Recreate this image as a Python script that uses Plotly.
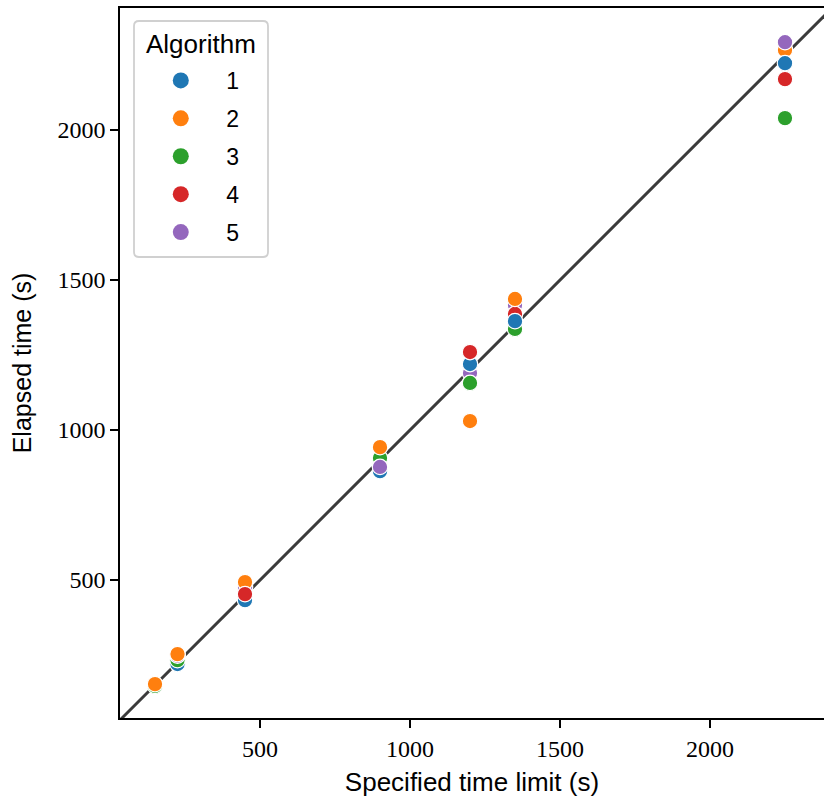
import plotly.graph_objects as go

time_limits = [150, 225, 450, 900, 1200, 1350, 2250]
algorithms = ["1", "2", "3", "4", "5"]
elapsed = {
    "1": [150, 220, 433, 863, 1220, 1363, 2223],
    "2": [153, 253, 493, 943, 1030, 1437, 2267],
    "3": [147, 233, 455, 907, 1157, 1337, 2040],
    "4": [150, 250, 453, 880, 1260, 1387, 2170],
    "5": [150, 248, 477, 877, 1190, 1417, 2293],
}
# drawing order (bottom -> top) of the algorithms within each time limit
stack_order = [
    ["1", "4", "5", "3", "2"],
    ["1", "3", "4", "5", "2"],
    ["3", "1", "5", "2", "4"],
    ["1", "4", "3", "2", "5"],
    ["5", "3", "1", "4", "2"],
    ["3", "5", "4", "1", "2"],
    ["2", "3", "4", "1", "5"],
]
colors = {"1": "#1f77b4", "2": "#ff7f0e", "3": "#2ca02c", "4": "#d62728", "5": "#9467bd"}
diag = [0, 2600]

xs, ys, cs, names = [], [], [], []
for i, t in enumerate(time_limits):
    for alg in stack_order[i]:
        xs.append(t)
        ys.append(elapsed[alg][i])
        cs.append(colors[alg])
        names.append(alg)

fig = go.Figure()
fig.add_trace(go.Scatter(x=diag, y=diag, mode="lines",
                         line=dict(color="#3b3b3b", width=3),
                         showlegend=False, hoverinfo="skip"))
fig.add_trace(go.Scatter(
    x=xs, y=ys, mode="markers", showlegend=False, text=names,
    marker=dict(size=15.5, color=cs, line=dict(color="white", width=1.2)),
))
for alg in algorithms:
    fig.add_trace(go.Scatter(
        x=[None], y=[None], mode="markers",
        name="\u00a0" * 4 + alg, legendgroup=alg,
        marker=dict(size=16, color=colors[alg], line=dict(color="white", width=0)),
    ))

# legend frame (rounded rectangle) in paper coordinates
W, H = 704.0, 710.0
x0, x1 = 14 / W, 148 / W
y1, y0 = (710 - 13) / H, (710 - 249) / H
rx, ry = 5 / W, 5 / H
frame_path = (
    f"M {x0 + rx},{y1} L {x1 - rx},{y1} Q {x1},{y1} {x1},{y1 - ry} "
    f"L {x1},{y0 + ry} Q {x1},{y0} {x1 - rx},{y0} "
    f"L {x0 + rx},{y0} Q {x0},{y0} {x0},{y0 + ry} "
    f"L {x0},{y1 - ry} Q {x0},{y1} {x0 + rx},{y1} Z"
)
fig.add_shape(type="path", path=frame_path, xref="paper", yref="paper",
              line=dict(color="#d0d0d0", width=1.8), fillcolor="rgba(255,255,255,0.8)",
              layer="above")
fig.add_annotation(text="Algorithm", xref="paper", yref="paper",
                   x=80.5 / W, y=(710 - 36) / H, xanchor="center", yanchor="middle",
                   showarrow=False, font=dict(size=26))

tickfont = dict(family="Liberation Serif, DejaVu Serif, serif", size=24, color="black")
axis_common = dict(
    tickvals=[500, 1000, 1500, 2000], showgrid=False, zeroline=False,
    showline=True, mirror=True, linecolor="black", linewidth=1.5,
    ticks="outside", ticklen=8, tickwidth=1.5, tickcolor="black",
    tickfont=tickfont, automargin=False, ticklabelstandoff=0,
)
fig.update_layout(
    width=824, height=800,
    margin=dict(l=120, r=0, t=8, b=82),
    plot_bgcolor="white", paper_bgcolor="white",
    font=dict(family="Liberation Sans, Arial, sans-serif", size=23, color="black"),
    xaxis=dict(range=[33.3, 2380], **axis_common,
               title=dict(text="Specified time limit (s)", font=dict(size=26), standoff=12)),
    yaxis=dict(range=[40, 2407], **axis_common,
               title=dict(text="Elapsed time (s)", font=dict(size=25), standoff=19)),
    legend=dict(x=0.021, y=(710 - 51) / H, xanchor="left", yanchor="top",
                borderwidth=0, bgcolor="rgba(0,0,0,0)",
                font=dict(size=23), tracegroupgap=5, indentation=26,
                traceorder="grouped"),
)

fig.write_html("out.html", config={"displayModeBar": False},
               post_script="document.body.style.margin='0';document.body.style.overflow='hidden';")
